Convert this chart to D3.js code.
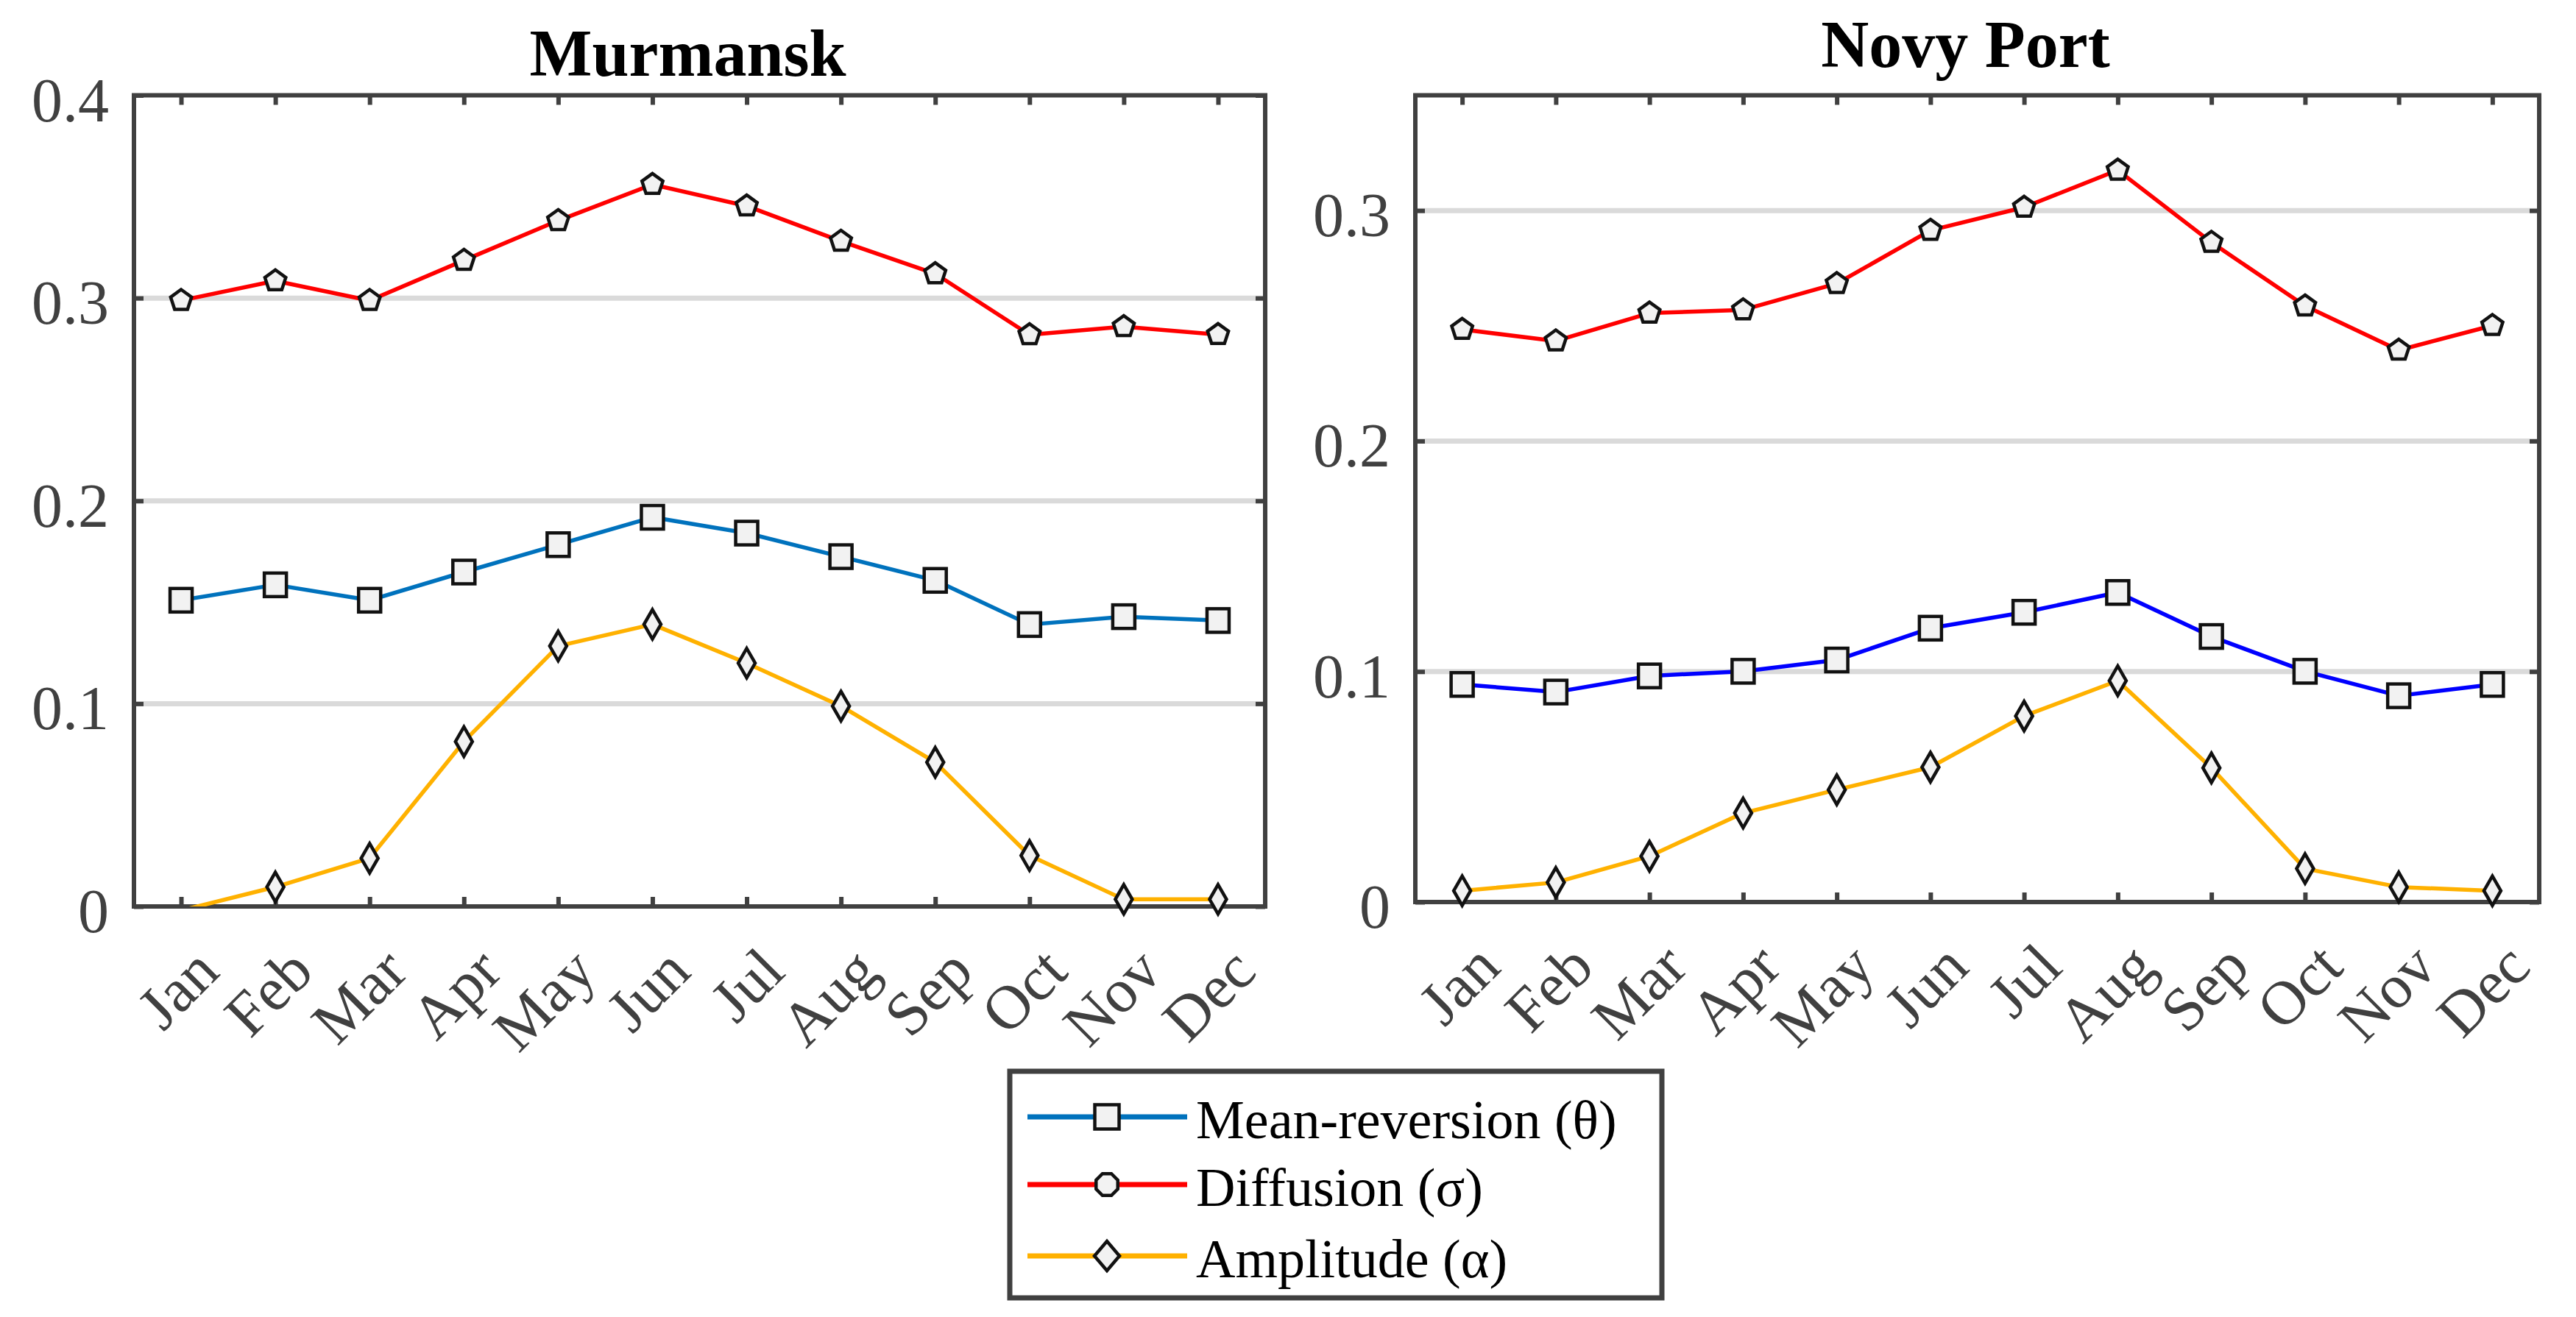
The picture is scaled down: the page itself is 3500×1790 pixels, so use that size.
<!DOCTYPE html>
<html>
<head>
<meta charset="utf-8">
<script src="https://cdnjs.cloudflare.com/ajax/libs/d3/7.8.5/d3.min.js"></script>
<style>
	body { margin: 0; background: #fff; }
	text { font-family: "Liberation Serif", "Times New Roman", serif; }
</style>
</head>
<body>
<svg></svg>
<script>
// ---- data ----
const months = ['Jan','Feb','Mar','Apr','May','Jun','Jul','Aug','Sep','Oct','Nov','Dec'];
const seriesNames = ['Mean-reversion (\u03b8)', 'Diffusion (\u03c3)', 'Amplitude (\u03b1)'];

const murmanskTheta = [0.151, 0.1586, 0.151, 0.1649, 0.1784, 0.1919, 0.1841, 0.1725, 0.1608, 0.139, 0.1429, 0.141];
const murmanskSigma = [0.2988, 0.3085, 0.2988, 0.3186, 0.3382, 0.356, 0.3454, 0.328, 0.312, 0.2819, 0.2859, 0.282];
const murmanskAlpha = [-0.002, 0.0096, 0.0238, 0.0813, 0.1284, 0.1391, 0.120, 0.0988, 0.0711, 0.0251, 0.0035, 0.0035];

const novyTheta = [0.0944, 0.0911, 0.0981, 0.1001, 0.105, 0.1188, 0.1257, 0.1343, 0.1152, 0.1001, 0.0895, 0.0944];
const novySigma = [0.2484, 0.2434, 0.2555, 0.2569, 0.2683, 0.2914, 0.3014, 0.3175, 0.2862, 0.2586, 0.2394, 0.2501];
const novyAlpha = [0.0049, 0.0085, 0.0199, 0.0386, 0.0487, 0.0585, 0.0807, 0.096, 0.0582, 0.0145, 0.0065, 0.0049];

const murmanskTicks = [0, 0.1, 0.2, 0.3, 0.4];
const novyTicks = [0, 0.1, 0.2, 0.3];

// ---- look ----
const width = 3500;
const height = 1790;
const axisColor = '#404040';
const gridColor = '#dadada';
const markerFill = '#f2f2f2';
const red = '#ff0000';
const orange = '#ffb100';
const tickLen = 13;
const tickFont = 84;
const titleFont = 90;
const legendFont = 74;
const lineWidth = 5.5;

var svg;

// pentagon / octagon marker shapes for d3.symbol
function polygonType(n, rot){
	return {
		draw: function(context, size){
			var r = Math.sqrt(size/Math.PI);
			for(var i = 0; i < n; i++){
				var a = rot + 2*Math.PI*i/n;
				var px = r*Math.sin(a), py = -r*Math.cos(a);
				if(i==0)	context.moveTo(px, py);
				else	context.lineTo(px, py);
			}
			context.closePath();
		}
	};
}

function diamondPath(w, h){
	return 'M0,'+(-h/2)+'L'+(w/2)+',0L0,'+(h/2)+'L'+(-w/2)+',0Z';
}

function drawMarker(g, kind, big){
	if(kind == 'square'){
		var s = big ? 33 : 30, t = big ? 33 : 32;
		g.append('rect').attr('x', -s/2).attr('y', -t/2).attr('width', s).attr('height', t);
	} else if(kind == 'circle'){
		g.append('path').attr('d', d3.symbol().type(big ? polygonType(8, Math.PI/8) : polygonType(5, 0)).size(big ? 800 : 700)());
	} else {
		g.append('path').attr('d', big ? diamondPath(34, 40) : diamondPath(23, 40));
	}
	g.selectAll('*')
	.style('fill', markerFill)
	.style('stroke', '#111')
	.style('stroke-width', 4.5);
}

function panel(cfg){
	var x = d3.scalePoint().domain(months).range([cfg.x0, cfg.x1]).padding(0.5);
	var y = d3.scaleLinear().domain(cfg.yDomain).range([cfg.yBot, cfg.yTop]);
	var g = svg.append('g');

	// grid
	g.append('g').selectAll('line.grid')
	.data(cfg.ticks.filter(d => d > 0 && d < cfg.yDomain[1]))
	.enter().append('line').classed('grid', true)
	.attr('x1', cfg.x0).attr('x2', cfg.x1)
	.attr('y1', d => y(d)).attr('y2', d => y(d))
	.style('stroke', gridColor).style('stroke-width', 7);

	// axes with inward ticks on all four sides
	var axes = [
		[d3.axisBottom(x), 'translate(0,'+cfg.yBot+')'],
		[d3.axisTop(x), 'translate(0,'+cfg.yTop+')'],
		[d3.axisLeft(y).tickValues(cfg.ticks), 'translate('+cfg.x0+',0)'],
		[d3.axisRight(y).tickValues(cfg.ticks), 'translate('+cfg.x1+',0)']
	];
	axes.forEach(function(a, i){
		var ag = g.append('g').attr('transform', a[1])
		.call(a[0].tickSizeInner(-tickLen).tickSizeOuter(0).tickFormat(''));
		ag.select('.domain').remove();
		ag.selectAll('line').style('stroke', axisColor).style('stroke-width', 6);
		ag.selectAll('text').remove();
	});

	g.append('rect')
	.attr('x', cfg.x0).attr('y', cfg.yTop)
	.attr('width', cfg.x1-cfg.x0).attr('height', cfg.yBot-cfg.yTop)
	.style('fill', 'none').style('stroke', axisColor).style('stroke-width', 6);

	// tick labels
	g.append('g').selectAll('text.ylab')
	.data(cfg.ticks)
	.enter().append('text').classed('ylab', true)
	.attr('x', cfg.x0 - 34).attr('y', d => y(d) + 35)
	.attr('text-anchor', 'end')
	.style('font-size', tickFont+'px').style('fill', axisColor)
	.text(d => d == 0 ? '0' : d3.format('.1f')(d));

	g.append('g').selectAll('text.xlab')
	.data(months)
	.enter().append('text').classed('xlab', true)
	.attr('text-anchor', 'end')
	.attr('transform', d => 'translate('+(x(d)+55)+','+(cfg.yBot+92)+') rotate(-45)')
	.style('font-size', tickFont+'px').style('fill', axisColor)
	.text(d => d);

	// title
	g.append('text')
	.attr('x', (cfg.x0+cfg.x1)/2 - 16).attr('y', cfg.titleY)
	.attr('text-anchor', 'middle')
	.style('font-size', titleFont+'px').style('font-weight', 'bold').style('fill', '#000')
	.text(cfg.title);

	// series
	var clipId = 'clip' + cfg.title.replace(' ', '');
	g.append('clipPath').attr('id', clipId).append('rect')
	.attr('x', cfg.x0).attr('y', cfg.yTop)
	.attr('width', cfg.x1-cfg.x0).attr('height', cfg.yBot-cfg.yTop);

	var line = d3.line().x((d,i) => x(months[i])).y(d => y(d));
	cfg.series.forEach(function(s){
		g.append('path').datum(s.values)
		.attr('clip-path', 'url(#'+clipId+')')
		.attr('d', line)
		.style('fill', 'none').style('stroke', s.color)
		.style('stroke-width', lineWidth).style('stroke-linejoin', 'round');
	});
	cfg.series.forEach(function(s){
		g.append('g').selectAll('g.mark')
		.data(s.values.map((v,i) => ({m: months[i], v: v})).filter(d => d.v >= cfg.yDomain[0] && d.v <= cfg.yDomain[1]))
		.enter().append('g').classed('mark', true)
		.attr('transform', d => 'translate('+x(d.m)+','+y(d.v)+')')
		.each(function(){ drawMarker(d3.select(this), s.marker, false); });
	});
}

function legend(){
	var g = svg.append('g');
	g.append('rect')
	.attr('x', 1372).attr('y', 1456).attr('width', 886).attr('height', 308)
	.style('fill', '#fff').style('stroke', axisColor).style('stroke-width', 7);
	var colors = ['#0072bd', red, orange];
	var kinds = ['square', 'circle', 'diamond'];
	var rows = [1518, 1610, 1707];
	seriesNames.forEach(function(name, i){
		g.append('line')
		.attr('x1', 1396).attr('x2', 1613).attr('y1', rows[i]).attr('y2', rows[i])
		.style('stroke', colors[i]).style('stroke-width', 7);
		drawMarker(g.append('g').attr('transform', 'translate(1504,'+rows[i]+')'), kinds[i], true);
		g.append('text')
		.attr('x', 1625).attr('y', rows[i] + 29)
		.style('font-size', legendFont+'px').style('fill', '#000')
		.text(name);
	});
}

function init(){
	svg = d3.select('svg').attr('width', width).attr('height', height);
	svg.append('rect').attr('width', width).attr('height', height).style('fill', '#fff');

	panel({
		title: 'Murmansk', titleY: 103,
		x0: 182, x1: 1719, yTop: 129.5, yBot: 1232,
		yDomain: [0, 0.4], ticks: murmanskTicks,
		series: [
			{values: murmanskTheta, color: '#0072bd', marker: 'square'},
			{values: murmanskSigma, color: red, marker: 'circle'},
			{values: murmanskAlpha, color: orange, marker: 'diamond'}
		]
	});
	panel({
		title: 'Novy Port', titleY: 91,
		x0: 1923, x1: 3450, yTop: 129.5, yBot: 1226,
		yDomain: [0, 0.35], ticks: novyTicks,
		series: [
			{values: novyTheta, color: '#0000ff', marker: 'square'},
			{values: novySigma, color: red, marker: 'circle'},
			{values: novyAlpha, color: orange, marker: 'diamond'}
		]
	});
	legend();
}

init();
</script>
</body>
</html>
